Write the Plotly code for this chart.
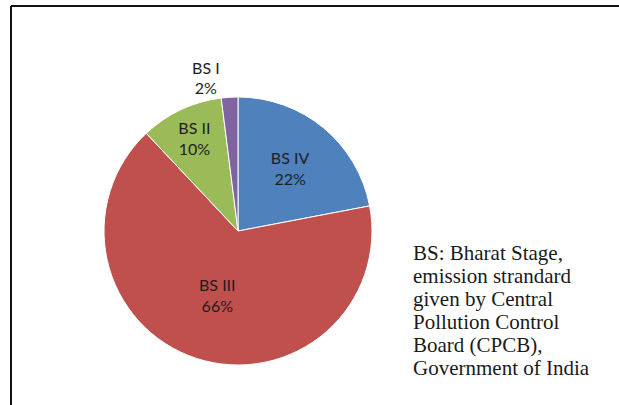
import plotly.graph_objects as go

W, H = 619, 405

labels = ["BS IV", "BS III", "BS II", "BS I"]
shares = [22, 66, 10, 2]
colors = ["#4F81BD", "#C0504D", "#9BBB59", "#8064A2"]
text_positions = ["inside", "inside", "inside", "outside"]

note_lines = [
    "BS: Bharat Stage,",
    "emission strandard",
    "given by Central",
    "Pollution Control",
    "Board (CPCB),",
    "Government of India",
]

# pie geometry (pixels)
cx, cy, r = 238, 231, 134

fig = go.Figure(
    go.Pie(
        labels=labels,
        values=shares,
        sort=False,
        direction="clockwise",
        rotation=0,
        marker=dict(colors=colors, line=dict(color="white", width=1)),
        texttemplate="%{label}<br>%{percent:.0%}",
        textposition=text_positions,
        insidetextorientation="horizontal",
        textfont=dict(family="Lato", size=16, color="#1e1e1e"),
        domain=dict(x=[(cx - r) / W, (cx + r) / W], y=[(H - cy - r) / H, (H - cy + r) / H]),
        showlegend=False,
        hoverinfo="label+percent",
    )
)

annotations = []
y0, dy = 253, 23
for i, line in enumerate(note_lines):
    annotations.append(
        dict(
            text=line,
            x=411 / W,
            y=1 - (y0 + i * dy) / H,
            xref="paper",
            yref="paper",
            xanchor="left",
            yanchor="middle",
            showarrow=False,
            font=dict(family="Liberation Serif", size=21, color="#1a1a1a"),
        )
    )

shapes = [
    dict(type="line", xref="paper", yref="paper", x0=11 / W, x1=11 / W, y0=0, y1=1 - 6 / H,
         line=dict(color="#111111", width=2)),
    dict(type="line", xref="paper", yref="paper", x0=11 / W, x1=1, y0=1 - 6 / H, y1=1 - 6 / H,
         line=dict(color="#111111", width=2)),
]

fig.update_layout(
    width=W,
    height=H,
    margin=dict(l=0, r=0, t=0, b=0),
    paper_bgcolor="white",
    plot_bgcolor="white",
    annotations=annotations,
    shapes=shapes,
)

fig.write_html(
    "out.html",
    config={"displayModeBar": False},
    post_script="document.body.style.margin='0';document.body.style.padding='0';document.body.style.overflow='hidden';",
)
